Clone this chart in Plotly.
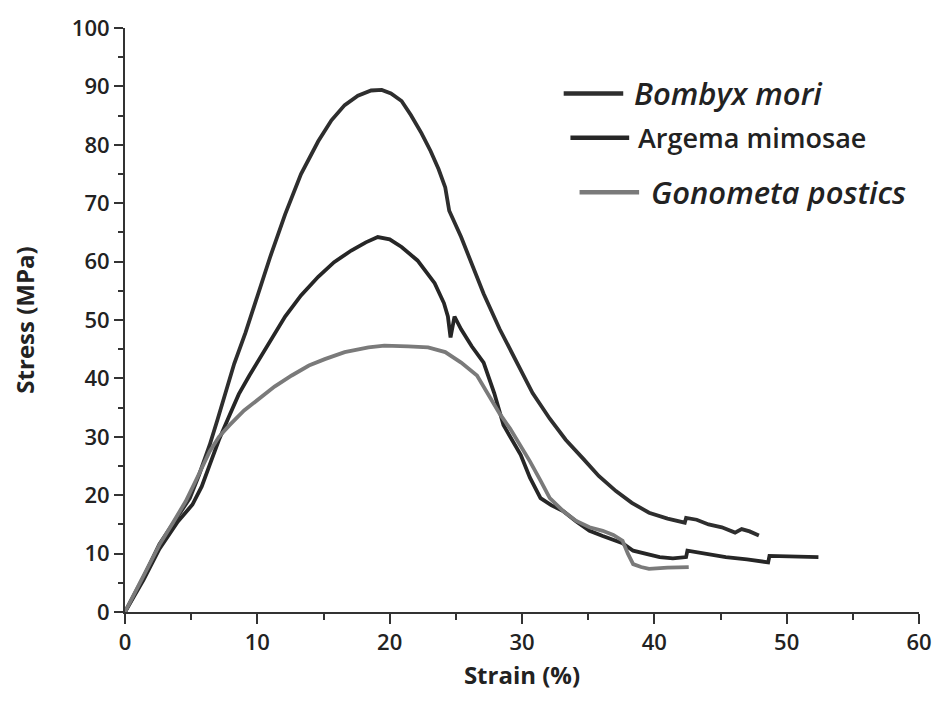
import plotly.graph_objects as go

# Bombyx mori
bm_x = [0, 1.4, 2.6, 4.0, 4.9, 5.6, 6.4, 7.0, 7.6, 8.25, 9.1, 10.1, 11.0, 12.1, 13.3, 14.6, 15.6, 16.6, 17.6, 18.6,
        19.4, 20.1, 20.9, 21.6, 22.4, 23.1, 23.7, 24.2, 24.5, 25.4, 26.2, 27.1, 28.3, 29.6, 30.8, 32.1, 33.3, 34.6,
        35.8, 37.1, 38.3, 39.6, 41.0, 42.3, 42.4, 43.2, 44.1, 45.1, 46.1, 46.6, 47.2, 47.9]
bm_y = [0, 6, 11.6, 16.5, 19.5, 23.5, 28.6, 33, 37.6, 42.5, 47.8, 55, 61, 68.1, 75, 80.6, 84.2, 86.8, 88.4, 89.3,
        89.4, 88.8, 87.5, 85.1, 82, 78.9, 75.8, 72.7, 68.7, 64.2, 59.5, 54.5, 48.5, 42.7, 37.5, 33.1, 29.5, 26.3,
        23.3, 20.7, 18.7, 17.0, 16.0, 15.3, 16.1, 15.8, 15.0, 14.5, 13.6, 14.2, 13.8, 13.1]

# Argema mimosae
am_x = [0, 1.4, 2.6, 4.0, 5.1, 5.8, 6.4, 7.1, 7.9, 8.6, 9.4, 10.0, 11.4, 12.1, 13.3, 14.6, 15.8, 17.1, 18.2, 19.1,
        20.0, 20.9, 22.1, 23.4, 24.1, 24.4, 24.6, 24.9, 25.4, 26.2, 27.1, 27.9, 28.6, 29.9, 30.6, 31.4, 32.2, 33.1,
        34.1, 35.1, 36.1, 37.1, 37.6, 38.4, 39.4, 40.4, 41.4, 42.4, 42.5, 43.9, 45.4, 47.0, 48.6, 48.7, 50.5, 52.4]
am_y = [0, 5.5, 10.8, 15.5, 18.4, 21.5, 25.2, 29.5, 33.7, 37.3, 40.5, 42.7, 47.8, 50.6, 54.2, 57.4, 59.9, 61.9, 63.3, 64.2,
        63.8, 62.5, 60.2, 56.3, 52.9, 50.6, 47.0, 50.6, 48.4, 45.5, 42.7, 37.5, 32.0, 26.9, 23.0, 19.5, 18.3, 17.3,
        15.5, 13.9, 13.0, 12.2, 11.8, 10.5, 9.9, 9.4, 9.2, 9.4, 10.5, 10.0, 9.4, 9.0, 8.5, 9.6, 9.5, 9.4]

# Gonometa postics
gp_x = [0, 1.4, 2.6, 3.6, 4.6, 5.5, 6.4, 7.1, 7.9, 9.0, 10.1, 11.3, 12.6, 13.9, 15.1, 16.6, 18.4, 19.6, 21.4, 22.9,
        24.2, 25.4, 26.6, 27.6, 28.3, 29.1, 29.9, 30.6, 31.4, 32.1, 33.1, 34.1, 35.1, 36.1, 36.9, 37.6, 38.0, 38.4,
        39.0, 39.6, 41.0, 42.6]
gp_y = [0, 6.3, 11.5, 15.2, 19.0, 23.2, 27.5, 30.0, 32.0, 34.5, 36.5, 38.6, 40.5, 42.2, 43.3, 44.5, 45.3, 45.6, 45.5, 45.3,
        44.5, 42.7, 40.5, 36.5, 34.0, 31.4, 28.5, 25.8, 22.5, 19.5, 17.3, 15.6, 14.5, 13.9, 13.2, 12.2, 10.0, 8.2,
        7.7, 7.4, 7.6, 7.7]

series_names = ["Bombyx mori", "Argema mimosae", "Gonometa postics"]
series_colors = ["#2e2e2e", "#262626", "#7a7a7a"]

x_ticks = [0, 10, 20, 30, 40, 50, 60]
y_ticks = [0, 10, 20, 30, 40, 50, 60, 70, 80, 90, 100]

FONT = "Open Sans"
AX = "#333333"

fig = go.Figure()
for xs, ys, name, col in zip([bm_x, am_x, gp_x], [bm_y, am_y, gp_y], series_names, series_colors):
    fig.add_trace(go.Scatter(x=xs, y=ys, mode="lines", name=name,
                             line=dict(color=col, width=3.8), showlegend=False))

fig.update_layout(
    width=944, height=702,
    margin=dict(l=125, r=19, t=22, b=90),
    paper_bgcolor="white", plot_bgcolor="white",
    font=dict(family=FONT, color="#222222"),
)
fig.update_xaxes(
    range=[0, 60], tickvals=x_ticks, ticktext=[str(v) for v in x_ticks],
    showgrid=False, zeroline=False, showline=True, linecolor=AX, linewidth=2,
    ticks="outside", ticklen=10, tickwidth=2, tickcolor=AX,
    minor=dict(dtick=5, ticks="outside", ticklen=6, tickwidth=2, tickcolor=AX),
    tickfont=dict(size=22, family=FONT, color="#222222", weight=600),
    title=dict(text="<b>Strain (%)</b>", font=dict(size=24, family=FONT, color="#222222"), standoff=12),
)
fig.update_yaxes(
    range=[0, 100], tickvals=y_ticks, ticktext=[str(v) for v in y_ticks],
    showgrid=False, zeroline=False, showline=True, linecolor=AX, linewidth=2,
    ticks="outside", ticklen=9, tickwidth=2, tickcolor=AX,
    minor=dict(dtick=5, ticks="outside", ticklen=5, tickwidth=2, tickcolor=AX),
    tickfont=dict(size=22, family=FONT, color="#222222", weight=600),
    title=dict(text="<b>Stress (MPa)</b>", font=dict(size=24, family=FONT, color="#222222"), standoff=30),
)

# Legend drawn manually (staggered as in reference)
leg = [
    (0.5525, 0.6275, 0.888, 0.639, "<i>Bombyx mori</i>", 31),
    (0.561, 0.635, 0.812, 0.644, "Argema mimosae", 27),
    (0.5725, 0.6475, 0.7186, 0.66, "<i>Gonometa postics</i>", 31),
]
for (x0, x1, yy, tx, label, fs), col in zip(leg, series_colors):
    fig.add_shape(type="line", xref="paper", yref="paper", x0=x0, x1=x1, y0=yy, y1=yy,
                  line=dict(color=col, width=4.5))
    fig.add_annotation(xref="paper", yref="paper", x=tx, y=yy, xanchor="left", yanchor="middle",
                       text=label, showarrow=False,
                       font=dict(size=fs, family=FONT, color="#222222", weight=600))

fig.write_html("out.html")
